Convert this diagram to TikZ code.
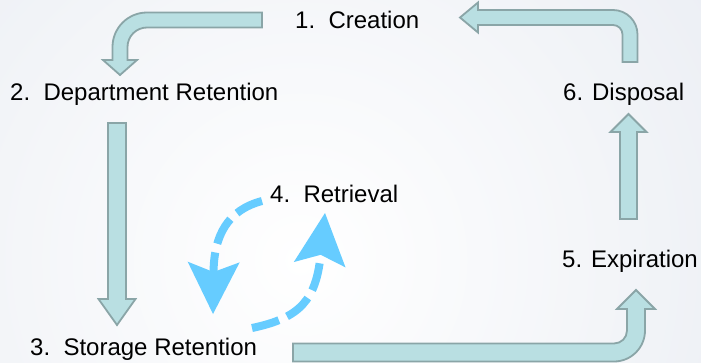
\documentclass[tikz,border=0pt]{standalone}
\usepackage{fontspec}
\setmainfont{Liberation Sans}
\usetikzlibrary{arrows.meta}
\definecolor{blockfill}{HTML}{B9DFE2}
\definecolor{blockline}{HTML}{8AA5A7}
\definecolor{loopblue}{HTML}{66CCFF}
\definecolor{bgedge}{HTML}{DFE4ED}
\begin{document}
\begin{tikzpicture}[x=1pt, y=-1pt,
    stagelabel/.style={anchor=base west, inner sep=0pt, font=\fontsize{24}{28}\selectfont},
    blockarrow/.style={fill=blockfill, draw=blockline, line width=1.8pt, line join=miter},
    looparrow/.style={draw=loopblue, line width=8pt, dash pattern=on 28pt off 9pt,
        -{Stealth[length=52pt, width=52pt, inset=10pt, line width=0pt]}}]
    \fill[bgedge] (0,0) rectangle (701,362);
    \begin{scope}
        \clip (0,0) rectangle (701,362);
        \shade[inner color=white, outer color=bgedge] (300,260) circle (820);
    \end{scope}
    \useasboundingbox (0,0) rectangle (701,362);

    \draw[blockarrow] (262,12.5) -- (147,12.5) arc[start angle=270, end angle=180, radius=34.5]
        -- (112.5,60) -- (103,60) -- (120,75) -- (137,60) -- (127.5,60)
        -- (127.5,47) arc[start angle=180, end angle=270, radius=19.5] -- (262,27.5) -- cycle;
    \draw[blockarrow] (108,123) -- (126,123) -- (126,299) -- (135.5,299) -- (117,325)
        -- (98.5,299) -- (108,299) -- cycle;
    \draw[blockarrow] (293,343.5) -- (614,343.5) arc[start angle=90, end angle=0, radius=13]
        -- (627,309) -- (617,309) -- (636,290) -- (655,309) -- (645,309)
        -- (645,330.5) arc[start angle=0, end angle=90, radius=31] -- (293,361.5) -- cycle;
    \draw[blockarrow] (620,219) -- (620,132) -- (610.5,132) -- (628.5,114) -- (646.5,132)
        -- (637,132) -- (637,219) -- cycle;
    \draw[blockarrow] (460,17.5) -- (478,2.5) -- (478,10) -- (613,10)
        arc[start angle=270, end angle=360, radius=24.5] -- (637.5,62) -- (622.5,62)
        -- (622.5,34.5) arc[start angle=0, end angle=-90, radius=9.5] -- (478,25) -- (478,32.5) -- cycle;

    \node[stagelabel] (creation) at (295,28) {1.\ \ Creation};
    \node[stagelabel] (department) at (10,100) {2.\ \ Department Retention};
    \node[stagelabel] (storage) at (30,355) {3.\ \ Storage Retention};
    \node[stagelabel] (retrieval) at (270,202) {4.\ \ Retrieval};
    \node[stagelabel] (expiration) at (562,267) {5. Expiration};
    \node[stagelabel] (disposal) at (563,100) {6. Disposal};

    \draw[looparrow] ([xshift=-8pt, yshift=1pt]retrieval.base west)
        .. controls (228,210) and (214,235) .. ([xshift=183pt, yshift=41pt]storage.base west);
    \draw[looparrow] ([xshift=222pt, yshift=27pt]storage.base west)
        .. controls (300,318) and (316,300) .. ([xshift=55pt, yshift=-11pt]retrieval.base west);
\end{tikzpicture}
\end{document}
